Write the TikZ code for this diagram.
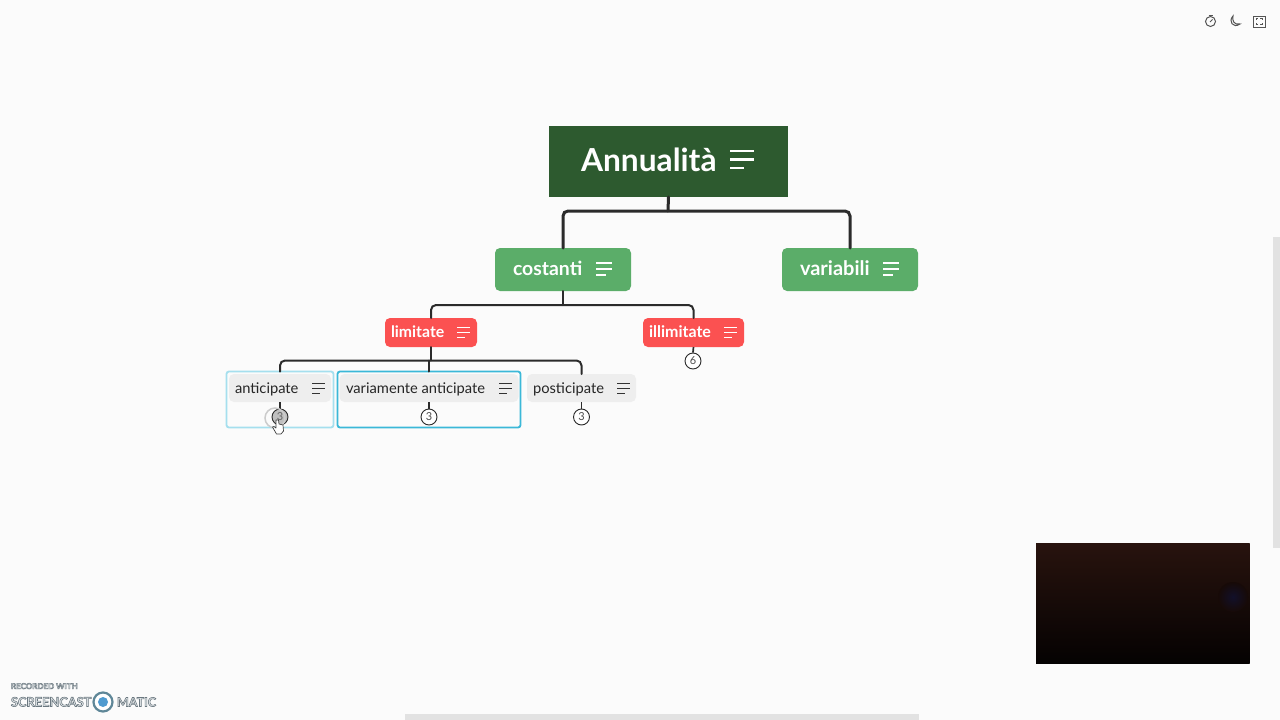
\documentclass[tikz,border=0pt]{standalone}
\usepackage{fontspec}
\setmainfont{Lato}
\definecolor{pagebg}{HTML}{FBFBFB}
\definecolor{rootgreen}{HTML}{2D5A2F}
\definecolor{midgreen}{HTML}{5BAD69}
\definecolor{redbox}{HTML}{FB5151}
\definecolor{greybox}{HTML}{EEEEEE}
\definecolor{linedark}{HTML}{2B2B2B}
\definecolor{hlstrong}{HTML}{3BB8D8}
\definecolor{hllight}{HTML}{A5DFEE}
\definecolor{barcol}{HTML}{E2E2E2}
\definecolor{wmfill}{HTML}{E8ECEE}
\definecolor{wmblue}{HTML}{4F9BD0}
\definecolor{wmring}{HTML}{5F8798}
\definecolor{iconcol}{HTML}{555555}
\definecolor{vidtop}{HTML}{28130E}
\definecolor{vidmid}{HTML}{170A07}
\definecolor{vidbot}{HTML}{050202}
\definecolor{vidspot}{HTML}{12102A}
\tikzset{
  x=1pt,y=-1pt,
  boxnode/.style={inner sep=0pt,outer sep=0pt,anchor=north west},
  rootbox/.style={boxnode,fill=rootgreen},
  greenbox/.style={boxnode,fill=midgreen,rounded corners=5pt},
  rdbox/.style={boxnode,fill=redbox,rounded corners=5pt},
  subbox/.style={boxnode,fill=greybox,rounded corners=5pt},
  hlbox/.style={boxnode,draw,line width=1.8pt,rounded corners=2.5pt},
  lbl/.style={inner sep=0pt,outer sep=0pt,anchor=base west},
  conn/.style={draw=linedark,line cap=round,rounded corners=5pt},
  connA/.style={conn,line width=3pt},
  connB/.style={conn,line width=2pt},
  stub/.style={draw=linedark,line width=1.7pt},
  counter/.style={circle,draw=linedark,line width=0.9pt,fill=white,minimum size=16pt,inner sep=0pt,font=\fontsize{11}{11}\selectfont,text=black!70},
}
\newcommand{\menuicon}[6]{%
  \draw[#6,line width=#5pt] (#1,#2-#4) -- ++(#3,0);
  \draw[#6,line width=#5pt] (#1,#2) -- ++(#3,0);
  \draw[#6,line width=#5pt] (#1,#2+#4) -- ++(0.6*#3,0);
}
\begin{document}
\begin{tikzpicture}
\useasboundingbox (0,0) rectangle (1280,720);
\fill[pagebg] (0,0) rectangle (1280,720);

% highlight frames
\node[hlbox,draw=hllight,minimum width=107pt,minimum height=56pt] (hlA) at (226.5,371.5) {};
\node[hlbox,draw=hlstrong,minimum width=183pt,minimum height=56pt] (hlV) at (337.5,371.5) {};

% boxes
\node[rootbox,minimum width=239pt,minimum height=71pt] (root) at (549,126) {};
\node[greenbox,minimum width=136pt,minimum height=43pt] (cost) at (495,248) {};
\node[greenbox,minimum width=136pt,minimum height=43pt] (vari) at (782,248) {};
\node[rdbox,minimum width=92pt,minimum height=29pt] (lim) at (385,318) {};
\node[rdbox,minimum width=101pt,minimum height=29pt] (ill) at (643,318) {};
\node[subbox,minimum width=102pt,minimum height=28pt] (ant) at (229,374) {};
\node[subbox,minimum width=179pt,minimum height=28pt] (var) at (339.5,374) {};
\node[subbox,minimum width=109pt,minimum height=28pt] (pos) at (527,374) {};

% junctions
\coordinate (j1) at (668,211);
\coordinate (j2) at (563,305);
\coordinate (j3) at (431,360.5);

% counters
\node[counter,fill=black!25,text=black!60] (cA) at (280,417) {3};
\node[counter] (cV) at (429,417) {3};
\node[counter] (cP) at (581.5,417) {3};
\node[counter] (cI) at (693,361) {6};

% connectors
\draw[connA] (root.south) -- (j1);
\draw[connA] (cost.north) |- (j1) -| (vari.north);
\draw[connB] (cost.south) -- (j2);
\draw[connB] (lim.north) |- (j2) -| (ill.north);
\draw[connB] (lim.south) -- (j3);
\draw[connB] (hlA.north) |- (j3) -| (pos.north);
\draw[connB] (j3 -| hlV.north) -- (hlV.north);
\draw[stub] (ant.south -| cA.north) -- (cA.north);
\draw[stub] (var.south -| cV.north) -- (cV.north);
\draw[stub] (pos.south -| cP.north) -- (cP.north);
\draw[stub] (ill.south) -- (cI.north);

% labels
\node[lbl,text=white,font=\fontsize{31.7}{32}\selectfont\bfseries] (troot) at (581,171) {Annualità};
\node[lbl,text=white,font=\fontsize{19.4}{20}\selectfont\bfseries] (tcost) at (513,275) {costanti};
\node[lbl,text=white,font=\fontsize{20}{20}\selectfont\bfseries] (tvari) at (800,275) {variabili};
\node[lbl,text=white,font=\fontsize{15.8}{16}\selectfont\bfseries] (tlim) at (391,337.5) {limitate};
\node[lbl,text=white,font=\fontsize{16}{16}\selectfont\bfseries] (till) at (649,337.5) {illimitate};
\node[lbl,text=black!85,font=\fontsize{14.7}{15}\selectfont] (tant) at (235,393) {anticipate};
\node[lbl,text=black!85,font=\fontsize{14.7}{15}\selectfont] (tvar) at (346,393) {variamente anticipate};
\node[lbl,text=black!85,font=\fontsize{14.7}{15}\selectfont] (tpos) at (533,393) {posticipate};

% menu icons
\menuicon{730}{159.5}{23.5}{8.3}{2.2}{white}
\menuicon{596}{269}{16}{6}{1.2}{white}
\menuicon{883}{269}{16}{6}{1.2}{white}
\menuicon{457}{332}{13}{5}{1}{white}
\menuicon{724}{332}{13}{5}{1}{white}
\menuicon{312}{388}{12.5}{5}{0.9}{black!80}
\menuicon{499}{388}{12.5}{5}{0.9}{black!80}
\menuicon{617}{388}{12.5}{5}{0.9}{black!80}

% cursor
\draw[black!20,line width=1.5pt] (275,418) circle (10);
\draw[black!75,fill=white,line width=0.7pt,line join=round] (276,420) -- (278.5,420) -- (279,424) -- (283,425) -- (283.5,431) -- (281,434) -- (276.5,434) -- (272.5,427) -- (274,426.5) -- (276,428) -- cycle;

% toolbar icons
\draw[iconcol,line width=1pt] (1210.5,21.5) circle (5);
\draw[iconcol,line width=1pt] (1208.5,15) -- (1212.5,15);
\draw[iconcol,line width=1pt] (1210,22) -- (1212.5,19.5);
\draw[iconcol,line width=1pt] (1233,16) .. controls (1228,21) and (1233,29) .. (1240,24) .. controls (1234,25) and (1232,21) .. (1233,16) -- cycle;
\draw[iconcol,line width=1pt] (1253,16) rectangle (1265,27);
\draw[iconcol,line width=0.8pt] (1256,20) -- (1256,18.5) -- (1258,18.5) (1260,18.5) -- (1262,18.5) -- (1262,20) (1262,23) -- (1262,24.5) -- (1260,24.5) (1258,24.5) -- (1256,24.5) -- (1256,23);

% video thumbnail
\fill[black!45] (1035.5,542.5) rectangle (1250,663.5);
\shade[top color=vidtop,middle color=vidmid,bottom color=vidbot] (1036,543) rectangle (1249.5,663);
\shade[inner color=vidspot,outer color=vidmid] (1233,597) circle (15);

% scrollbars
\fill[barcol] (1273,237) rectangle (1280,548);
\fill[barcol] (405,714) rectangle (919,720);

% watermark
\node[lbl,text=wmfill,font=\fontsize{8}{8}\selectfont\bfseries] (wm1) at (11,689) {\special{pdf:code 2 Tr 0.45 w 0.42 0.47 0.5 RG}RECORDED WITH};
\node[lbl,text=wmfill,font=\fontsize{12.8}{14}\selectfont\bfseries] (wm2) at (11,706.5) {\special{pdf:code 2 Tr 0.6 w 0.42 0.47 0.5 RG}SCREENCAST};
\node[lbl,text=wmfill,font=\fontsize{12.5}{14}\selectfont\bfseries] (wm3) at (117,706.5) {\special{pdf:code 2 Tr 0.6 w 0.42 0.47 0.5 RG}MATIC};
\draw[wmring,line width=2.2pt,fill=white] (103,702) circle (9.5);
\fill[wmblue] (103,702) circle (5);
\end{tikzpicture}
\end{document}
